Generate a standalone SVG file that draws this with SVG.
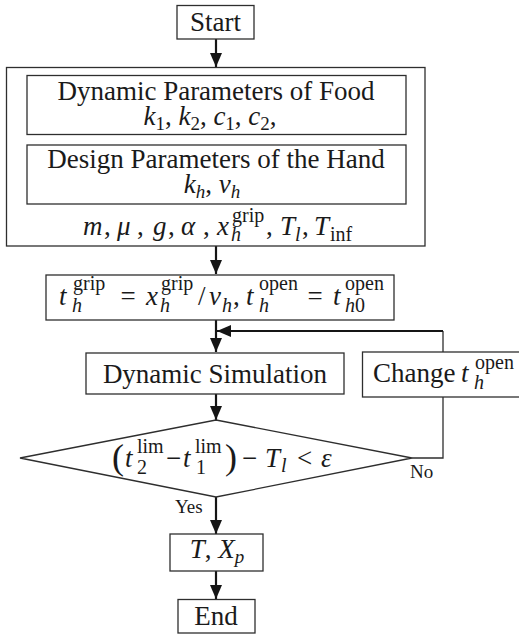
<svg xmlns="http://www.w3.org/2000/svg" width="519" height="635" viewBox="0 0 519 635">
<defs>
<style>
.box{fill:#fff;stroke:#2e2e2e;stroke-width:1.3}
text{font-family:'Liberation Serif',serif;font-size:27px;fill:#1a1a1a}
.i{font-style:italic}
.s{font-size:19px}
.s2{font-size:20px}
.lab{font-size:19px}
.arr{fill:none;stroke:#151515;stroke-width:2.2}
.thin{fill:none;stroke:#2e2e2e;stroke-width:1.3}
</style>
<marker id="ah" markerUnits="userSpaceOnUse" markerWidth="14" markerHeight="12" refX="14" refY="6" orient="auto">
<path d="M0,0 L14,6 L0,12 z" fill="#151515"/>
</marker>
</defs>
<rect width="519" height="635" fill="#fff"/>

<g id="connectors">
<path class="arr" d="M216,39 V67" marker-end="url(#ah)"/>
<path class="arr" d="M216,246 V274" marker-end="url(#ah)"/>
<path class="arr" d="M216,320 V352" marker-end="url(#ah)"/>
<path class="thin" d="M443,352 V331"/>
<path class="arr" d="M443,331 H217" marker-end="url(#ah)"/>
<path class="arr" d="M216,394 V420" marker-end="url(#ah)"/>
<path class="thin" d="M412,458 H443 V397"/>
<path class="arr" d="M216,497 V534" marker-end="url(#ah)"/>
<path class="arr" d="M216,571 V599" marker-end="url(#ah)"/>
<text class="lab" x="175" y="513">Yes</text>
<text class="lab" x="410" y="478">No</text>
</g>

<g id="start">
<rect class="box" x="177" y="5.5" width="77" height="33.5"/>
<text x="215.5" y="31" text-anchor="middle">Start</text>
</g>

<g id="parameters">
<rect class="box" x="6.5" y="67.5" width="418.5" height="178.5"/>
<g id="food">
<rect class="box" x="27" y="75.5" width="379" height="59"/>
<text x="216" y="100" text-anchor="middle">Dynamic Parameters of Food</text>
<text x="210" y="125" text-anchor="middle"><tspan class="i">k</tspan><tspan class="s" dy="5">1</tspan><tspan dy="-5">, </tspan><tspan class="i">k</tspan><tspan class="s" dy="5">2</tspan><tspan dy="-5">, </tspan><tspan class="i">c</tspan><tspan class="s" dy="5">1</tspan><tspan dy="-5">, </tspan><tspan class="i">c</tspan><tspan class="s" dy="5">2</tspan><tspan dy="-5">,</tspan></text>
</g>
<g id="hand">
<rect class="box" x="27" y="145" width="379" height="59"/>
<text x="216" y="168" text-anchor="middle">Design Parameters of the Hand</text>
<text x="212" y="193" text-anchor="middle"><tspan class="i">k</tspan><tspan class="s i" dy="5">h</tspan><tspan dy="-5">, </tspan><tspan class="i">v</tspan><tspan class="s i" dy="5">h</tspan></text>
</g>
<text y="235"><tspan class="i" x="83">m</tspan><tspan x="104">,</tspan><tspan class="i" x="117">μ</tspan><tspan x="137">,</tspan><tspan class="i" x="153">g</tspan><tspan x="168">,</tspan><tspan class="i" x="181">α</tspan><tspan x="203">,</tspan><tspan class="i" x="217">x</tspan><tspan class="s2 i" x="231" y="241">h</tspan><tspan class="s2" x="232" y="222">grip</tspan><tspan x="266" y="235">,</tspan><tspan class="i" x="280">T</tspan><tspan class="s2 i" x="295" y="241">l</tspan><tspan x="302" y="235">,</tspan><tspan class="i" x="314">T</tspan><tspan class="s2" x="330" y="241">inf</tspan></text>
</g>

<g id="init">
<rect class="box" x="46" y="275" width="348" height="45"/>
<text y="305"><tspan class="i" x="59">t</tspan><tspan class="s2 i" x="72" y="312">h</tspan><tspan class="s2" x="73" y="290">grip</tspan><tspan x="120.5" y="305">=</tspan><tspan class="i" x="146">x</tspan><tspan class="s2 i" x="160" y="312">h</tspan><tspan class="s2" x="161" y="290">grip</tspan><tspan x="198" y="305">/</tspan><tspan class="i" x="209">v</tspan><tspan class="s2 i" x="222" y="312">h</tspan><tspan x="233" y="305">,</tspan><tspan class="i" x="246">t</tspan><tspan class="s2 i" x="259" y="312">h</tspan><tspan class="s2" x="259" y="290">open</tspan><tspan x="307.5" y="305">=</tspan><tspan class="i" x="333">t</tspan><tspan class="s2" x="345" y="312"><tspan class="i">h</tspan>0</tspan><tspan class="s2" x="345" y="290">open</tspan></text>
</g>

<g id="simulation">
<rect class="box" x="86" y="353" width="258" height="41"/>
<text x="215" y="383" text-anchor="middle">Dynamic Simulation</text>
</g>

<g id="change">
<rect class="box" x="362.5" y="352" width="160" height="45"/>
<text y="382"><tspan x="373">Change</tspan><tspan class="i" x="461">t</tspan><tspan class="s2 i" x="474" y="389">h</tspan><tspan class="s2" x="475" y="369">open</tspan></text>
</g>

<g id="decision">
<polygon class="box" points="216,420 412,458 216,497 20,458"/>
<text y="467"><tspan x="112" y="469" style="font-size:36px">(</tspan><tspan class="i" x="125" y="467">t</tspan><tspan class="s2" x="137" y="474">2</tspan><tspan class="s2" x="137" y="453">lim</tspan><tspan x="166" y="467">−</tspan><tspan class="i" x="183">t</tspan><tspan class="s2" x="196" y="474">1</tspan><tspan class="s2" x="195" y="453">lim</tspan><tspan x="225" y="469" style="font-size:36px">)</tspan><tspan x="242" y="467">−</tspan><tspan class="i" x="265">T</tspan><tspan class="s2 i" x="281" y="472">l</tspan><tspan x="297" y="467">&lt;</tspan><tspan class="i" x="321">ε</tspan></text>
</g>

<g id="result">
<rect class="box" x="170" y="534" width="93" height="37"/>
<text x="217" y="558" text-anchor="middle"><tspan class="i">T</tspan>, <tspan class="i">X</tspan><tspan class="s i" dy="5">p</tspan></text>
</g>

<g id="end">
<rect class="box" x="178" y="599.5" width="77" height="33.5"/>
<text x="216" y="625" text-anchor="middle">End</text>
</g>
</svg>
